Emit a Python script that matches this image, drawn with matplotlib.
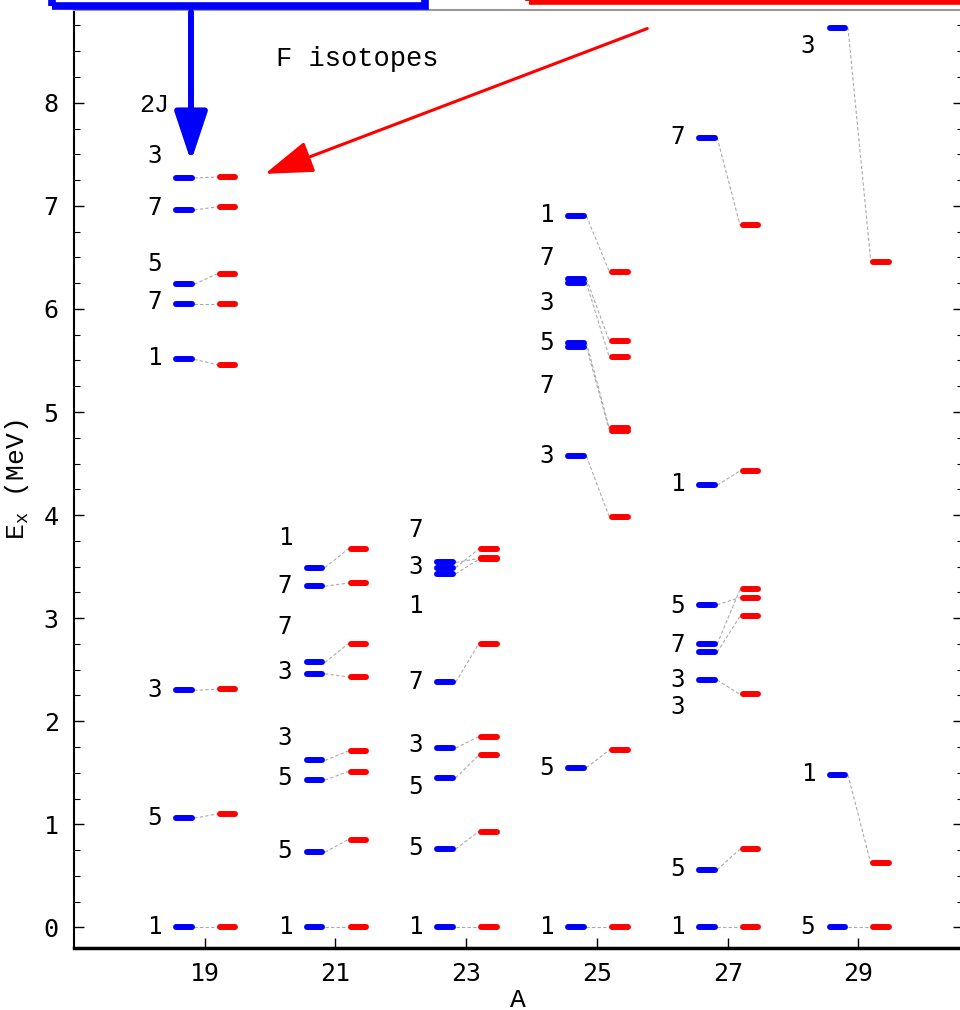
import matplotlib
matplotlib.use('Agg')
import matplotlib.pyplot as plt
from matplotlib.patches import Rectangle

# mass numbers of the isotopes
masses = [19, 21, 23, 25, 27, 29]

# 2J of each level
two_j = {
	19: [1, 5, 3, 1, 7, 5, 7, 3],
	21: [1, 5, 5, 3, 3, 7, 7, 1],
	23: [1, 5, 5, 3, 7, 1, 3, 7],
	25: [1, 5, 3, 7, 5, 3, 7, 1],
	27: [1, 5, 3, 3, 7, 5, 1, 7],
	29: [5, 1, 3],
}

# blue levels (MeV)
e_exp = {
	19: [0.0, 1.06, 2.30, 5.51, 6.05, 6.24, 6.96, 7.27],
	21: [0.0, 0.73, 1.43, 1.62, 2.46, 2.57, 3.31, 3.49],
	23: [0.0, 0.76, 1.45, 1.74, 2.38, 3.43, 3.49, 3.54],
	25: [0.0, 1.55, 4.57, 5.63, 5.67, 6.25, 6.29, 6.90],
	27: [0.0, 0.56, 2.40, 2.67, 2.75, 3.13, 4.29, 7.66],
	29: [0.0, 1.48, 8.73],
}

# red levels (MeV)
e_th = {
	19: [0.0, 1.10, 2.31, 5.46, 6.05, 6.34, 6.99, 7.28],
	21: [0.0, 0.85, 1.51, 1.71, 2.43, 2.75, 3.34, 3.67],
	23: [0.0, 0.93, 1.67, 1.85, 2.75, 3.57, 3.67, 3.58],
	25: [0.0, 1.72, 3.98, 4.82, 4.84, 5.53, 5.69, 6.36],
	27: [0.0, 0.76, 2.26, 3.02, 3.28, 3.20, 4.43, 6.81],
	29: [0.0, 0.62, 6.46],
}

# where the 2J labels sit (moved apart so they do not overlap)
label_y = {
	19: [0.0, 1.06, 2.30, 5.52, 6.07, 6.44, 6.98, 7.48],
	21: [0.0, 0.74, 1.45, 1.84, 2.48, 2.91, 3.31, 3.78],
	23: [0.0, 0.77, 1.36, 1.77, 2.38, 3.12, 3.50, 3.86],
	25: [0.0, 1.55, 4.57, 5.25, 5.67, 6.06, 6.49, 6.91],
	27: [0.0, 0.57, 2.14, 2.40, 2.74, 3.12, 4.30, 7.67],
	29: [0.0, 1.49, 8.55],
}

mono = 'DejaVu Sans Mono'
courier = 'Liberation Mono'

fig = plt.figure(figsize=(9.6, 10.1), dpi=100)
ax = fig.add_axes([74 / 960, 62 / 1010, 889 / 960, 938 / 1010])

for a in masses:
	for j, ex, th, ly in zip(two_j[a], e_exp[a], e_th[a], label_y[a]):
		ax.plot([a - 0.16, a + 0.19], [ex, th], color='#aaaaaa', lw=0.8, ls=(0, (3, 2)), zorder=1)
		ax.plot([a - 0.44, a - 0.20], [ex, ex], color='#0000ff', lw=4.3, solid_capstyle='round', zorder=2)
		ax.plot([a + 0.23, a + 0.47], [th, th], color='#ff0000', lw=4.3, solid_capstyle='round', zorder=2)
		ax.text(a - 0.66, ly, str(j), ha='right', va='center', fontsize=17.5, family=mono)

ax.text(18.45, 7.98, '2J', ha='right', va='center', fontsize=18, family=courier)
ax.text(21.34, 8.42, 'F isotopes', ha='center', va='center', fontsize=19.5, family=courier)

# arrows from the (cut off) boxes
ax.annotate('', xy=(18.79, 7.43), xytext=(18.79, 8.88), annotation_clip=False,
	arrowprops=dict(arrowstyle='-|>,head_length=30,head_width=10', mutation_scale=1,
		color='#0000ff', lw=4.3, shrinkA=0, shrinkB=0))
ax.annotate('', xy=(19.92, 7.31), xytext=(25.77, 8.72), annotation_clip=False,
	arrowprops=dict(arrowstyle='-|>,head_length=30,head_width=10', mutation_scale=1,
		color='#ff0000', lw=2.2, shrinkA=0, shrinkB=0))

fig.patches.append(Rectangle((51.5 / 960, 1 - 5.5 / 1010), (425 - 51.5) / 960, 0.2,
	transform=fig.transFigure, fill=False, ec='#0000ff', lw=5.5, clip_on=False, zorder=5))
fig.patches.append(Rectangle((528.5 / 960, 1 - 1 / 1010), 0.6, 0.2,
	transform=fig.transFigure, fill=False, ec='#ff0000', lw=5.5, clip_on=False, zorder=5))

ax.set_xlim(17, 30.6)
ax.set_ylim(-0.2, 8.9)
ax.set_xticks([19, 21, 23, 25, 27, 29])
ax.set_yticks(range(0, 9))
ax.set_yticks([i * 0.25 for i in range(0, 36)], minor=True)
ax.tick_params(axis='x', direction='in', length=7, width=1, pad=10, labelsize=18)
ax.tick_params(axis='y', which='major', direction='in', length=7, width=1, pad=11,
	labelsize=18, right=True)
ax.tick_params(axis='y', which='minor', direction='in', length=4, width=0.8, right=True)
for lab in ax.get_xticklabels() + ax.get_yticklabels():
	lab.set_family(mono)

ax.spines['left'].set_linewidth(1.5)
ax.spines['bottom'].set_linewidth(2.5)
ax.spines['top'].set_color('#999999')
ax.spines['top'].set_linewidth(1.5)
ax.spines['right'].set_visible(False)

fig.text(518 / 960, 1 - 1000 / 1010, 'A', ha='center', va='center', fontsize=19, family=courier)
fig.text(17 / 960, 1 - 480 / 1010, r'E$_\mathregular{x}$ (MeV)', ha='center', va='center',
	rotation=90, fontsize=19, family=courier)

plt.savefig('out.png', dpi=100)
